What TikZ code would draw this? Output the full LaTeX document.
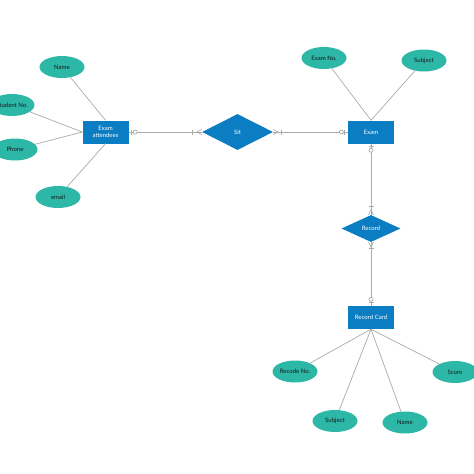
\documentclass[tikz,border=0pt]{standalone}
\usepackage{fontspec}
\setmainfont{Lato}
\usetikzlibrary{shapes.geometric,calc}
\definecolor{entblue}{RGB}{11,125,194}
\definecolor{attteal}{RGB}{44,183,166}
\definecolor{lnggray}{RGB}{170,170,170}
\begin{document}
\begin{tikzpicture}[x=1pt,y=-1pt,
  ent/.style={rectangle,fill=entblue,text=white,minimum width=46pt,minimum height=23pt,inner sep=1pt,align=center,font=\fontsize{6}{7.5}\selectfont},
  rel/.style={diamond,fill=entblue,text=white,inner sep=0pt,font=\fontsize{6}{7.5}\selectfont},
  attr/.style={ellipse,fill=attteal,text=black!90,minimum width=45pt,minimum height=22pt,inner sep=0pt,font=\fontsize{6}{7.5}\selectfont},
  conn/.style={draw=lnggray,line width=0.7pt},
  mk/.style={draw=lnggray,line width=0.7pt},
  mkc/.style={draw=lnggray,line width=0.7pt,fill=white}]
\useasboundingbox (0,0) rectangle (474,474);

% entities and relations
\node[ent] (att) at (105.5,132) {Exam\\attendees};
\node[rel,minimum width=71pt,minimum height=36pt] (sit) at (237.5,132) {Sit};
\node[ent] (exam) at (371,132) {Exam};
\node[rel,minimum width=59pt,minimum height=27pt] (rec) at (371,228.5) {Record};
\node[ent] (card) at (371,317.5) {Record Card};

% attributes
\node[attr] (n1) at (62,67) {Name};
\node[attr] (sno) at (12,105) {Student No.};
\node[attr] (ph) at (15,149.5) {Phone};
\node[attr] (em) at (58,197) {email};
\node[attr] (eno) at (324,58) {Exam No.};
\node[attr] (subj) at (424,60.5) {Subject};
\node[attr] (rno) at (295,371.5) {Recode No.};
\node[attr] (sc) at (455,372) {Score};
\node[attr] (s2) at (335,421) {Subject};
\node[attr] (nm) at (405,422.5) {Name};

% attribute links
\draw[conn] (n1) -- (att.north);
\draw[conn] (sno) -- (att.west);
\draw[conn] (ph) -- (att.west);
\draw[conn] (em) -- (att.south);
\draw[conn] (eno) -- (exam.north);
\draw[conn] (subj) -- (exam.north);
\draw[conn] (card.south) -- (rno);
\draw[conn] (card.south) -- (s2);
\draw[conn] (card.south) -- (nm);
\draw[conn] (card.south) -- (sc);

% relationship links
\draw[conn] (att.east) -- (sit.west);
\draw[conn] (sit.east) -- (exam.west);
\draw[conn] (exam.south) -- (rec.north);
\draw[conn] (rec.south) -- (card.north);

% marks: Exam attendees side (zero or one)
\draw[mk] ($(att.east)+(3,-2.5)$) -- ++(0,5);
\draw[mkc] ($(att.east)+(6.5,0)$) circle (2);
% Sit left side (one or many)
\draw[mk] ($(sit.west)+(-9,-2.5)$) -- ++(0,5);
\draw[mk] ($(sit.west)+(0,-2.5)$) -- ($(sit.west)+(-5,0)$) -- ($(sit.west)+(0,2.5)$);
% Sit right side (one or many)
\draw[mk] ($(sit.east)+(8,-2.5)$) -- ++(0,5);
\draw[mk] ($(sit.east)+(0,-2.5)$) -- ($(sit.east)+(5,0)$) -- ($(sit.east)+(0,2.5)$);
% Exam left side (zero or one)
\draw[mk] ($(exam.west)+(-3,-2.5)$) -- ++(0,5);
\draw[mkc] ($(exam.west)+(-6.5,0)$) circle (2);
% Exam bottom (zero or one)
\draw[mk] ($(exam.south)+(-2.5,2.5)$) -- ++(5,0);
\draw[mkc] ($(exam.south)+(0,6.5)$) circle (2);
% Record top (one or many)
\draw[mk] ($(rec.north)+(-2.5,-8)$) -- ++(5,0);
\draw[mk] ($(rec.north)+(-2.5,0)$) -- ($(rec.north)+(0,-5)$) -- ($(rec.north)+(2.5,0)$);
% Record bottom (one or many)
\draw[mk] ($(rec.south)+(-2.5,6)$) -- ++(5,0);
\draw[mk] ($(rec.south)+(-2.5,0)$) -- ($(rec.south)+(0,5)$) -- ($(rec.south)+(2.5,0)$);
% Record Card top (zero or one)
\draw[mk] ($(card.north)+(-2.5,-3)$) -- ++(5,0);
\draw[mkc] ($(card.north)+(0,-6.5)$) circle (2);
\end{tikzpicture}
\end{document}
